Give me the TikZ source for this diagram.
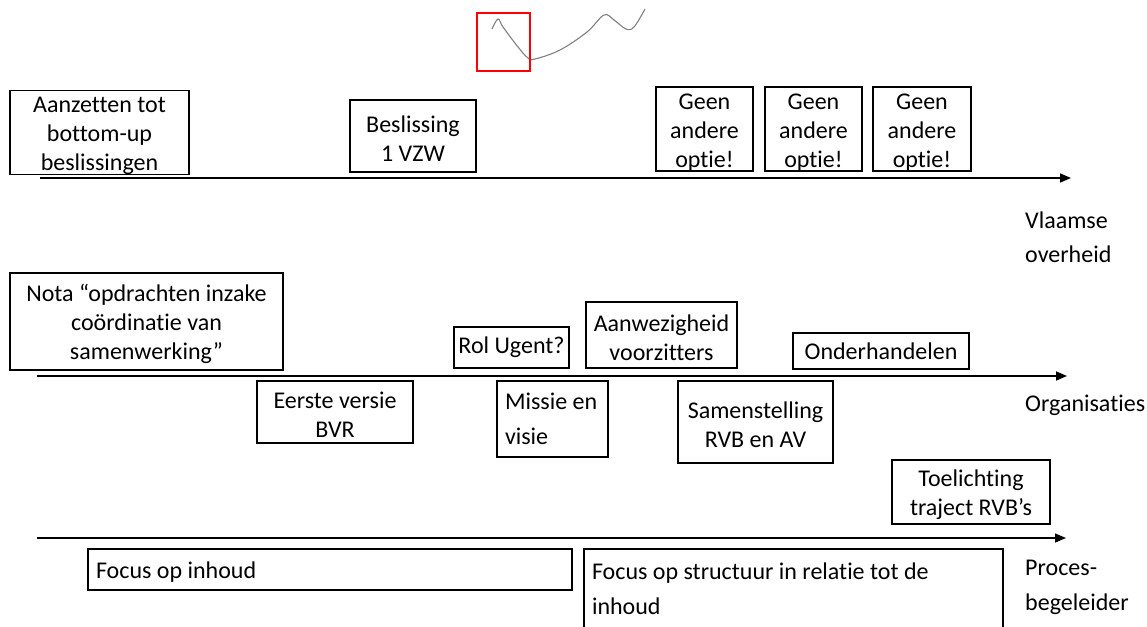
\documentclass[tikz,border=0pt]{standalone}
\usepackage{fontspec}
\setmainfont{Carlito}[Ligatures={NoCommon}]
\usetikzlibrary{arrows.meta}
\newcommand{\topstrut}{\rule{0pt}{22pt}}
\begin{document}
\begin{tikzpicture}[x=1pt,y=-1pt,
  box/.style={draw=black, line width=1.4pt, inner sep=0pt, align=center,
    font=\fontsize{24}{29}\selectfont},
  lbox/.style={draw=black, line width=1.4pt, inner xsep=8pt, inner ysep=0pt, align=flush left,
    font=\fontsize{24}{35}\selectfont},
  axis/.style={line width=1.5pt, -{Triangle[length=11pt,width=9pt]}},
  lab/.style={anchor=west, inner sep=0pt, align=flush left, font=\fontsize{24}{34}\selectfont}]
\clip (0,0) rectangle (1147,626);
% squiggle and red frame
\draw[gray, line width=1.1pt] plot[smooth, tension=0.6] coordinates {(492,29) (498,19) (503,27) (518,47) (528,58) (535,59) (560,50) (587,32) (604,15) (614,20) (626,29) (634,27) (645,9)};
\draw[red, line width=1.6pt] (477,13) rectangle (530,71);
% axes
\coordinate (a1s) at (40,178); \coordinate (a1e) at (1071,178);
\coordinate (a2s) at (37,376); \coordinate (a2e) at (1067,376);
\coordinate (a3s) at (37,538); \coordinate (a3e) at (1066,538);
\draw[axis] (a1s) -- (a1e);
\draw[axis] (a2s) -- (a2e);
\draw[axis] (a3s) -- (a3e);
% top row
\node[box, minimum width=179pt, minimum height=83pt] (aanz) at (99.5,132.5) {\topstrut Aanzetten tot\\bottom-up\\beslissingen};
\node[box, minimum width=126pt, minimum height=72pt] (besl) at (413,136) {\topstrut Beslissing\\1 VZW};
\node[box, minimum width=97pt, minimum height=82pt] (g1) at (704.5,129) {\topstrut Geen\\andere\\optie!};
\node[box, minimum width=97pt, minimum height=82pt] (g2) at (813.5,129) {\topstrut Geen\\andere\\optie!};
\node[box, minimum width=98pt, minimum height=82pt] (g3) at (922,129) {\topstrut Geen\\andere\\optie!};
\node[lab] (vl) at (1025,237) {Vlaamse\\overheid};
% middle row
\node[box, minimum width=273pt, minimum height=97pt] (nota) at (146.5,321.5) {\topstrut Nota “opdrachten inzake\\coördinatie van\\samenwerking”};
\node[box, minimum width=115pt, minimum height=41pt] (rol) at (511.5,347.5) {Rol Ugent?};
\node[box, minimum width=151pt, minimum height=66pt] (aanw) at (661.5,335) {\topstrut Aanwezigheid\\voorzitters};
\node[box, minimum width=176pt, minimum height=36pt] (onder) at (881,351) {Onderhandelen};
\node[box, minimum width=156pt, minimum height=62pt] (eerste) at (335,412) {\topstrut Eerste versie\\BVR};
\node[lbox, minimum width=111pt, minimum height=76pt, text width=95pt] (missie) at (552.5,419) {Missie en\\visie};
\node[box, minimum width=155pt, minimum height=82pt] (samen) at (755.5,422) {\topstrut Samenstelling\\RVB en AV};
\node[box, minimum width=158pt, minimum height=64pt] (toel) at (971,492) {\topstrut Toelichting\\traject RVB’s};
\node[lab] (org) at (1025,405) {Organisaties};
% bottom row
\node[lbox, minimum width=484pt, minimum height=41pt, text width=468pt] (finh) at (330,569.5) {\topstrut Focus op inhoud};
\node[lbox, minimum width=419pt, minimum height=80pt, text width=403pt] (fstr) at (793.5,589) {Focus op structuur in relatie tot de\\inhoud};
\node[lab, font=\fontsize{24}{35}\selectfont] (proc) at (1025,587) {Proces-\\begeleider};
\end{tikzpicture}
\end{document}
